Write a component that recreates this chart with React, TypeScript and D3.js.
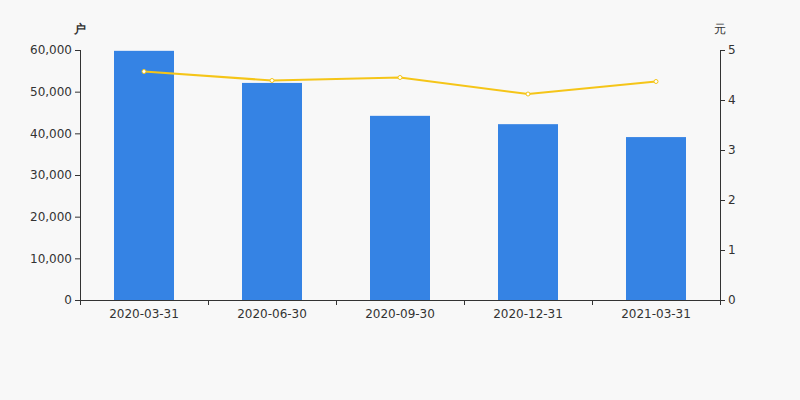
import React from "react";
import * as d3 from "d3";

const categories = ["2020-03-31", "2020-06-30", "2020-09-30", "2020-12-31", "2021-03-31"];
const holders = [59800, 52100, 44200, 42200, 39100];
const avgPrice = [4.57, 4.39, 4.45, 4.12, 4.37];
const leftTicks = [0, 10000, 20000, 30000, 40000, 50000, 60000];
const rightTicks = [0, 1, 2, 3, 4, 5];

export default function App() {
  const W = 800, H = 400;
  const m = { l: 80, r: 720, t: 50, b: 300 };
  const x = d3.scaleBand<string>().domain(categories).range([m.l, m.r]);
  const yL = d3.scaleLinear().domain([0, 60000]).range([m.b, m.t]);
  const yR = d3.scaleLinear().domain([0, 5]).range([m.b, m.t]);
  const bw = 60;
  const fmt = d3.format(",");
  const line = d3
    .line<number>()
    .x((_, i) => x(categories[i])! + x.bandwidth() / 2)
    .y((d) => yR(d));
  const font = "DejaVu Sans, sans-serif";
  const axisColor = "#333";
  const boundaries = [...categories.map((c) => x(c)!), m.r];
  return (
    <svg width={W} height={H} style={{ position: "absolute", left: 0, top: 0, background: "#f8f8f8" }} fontFamily={font}>
      <rect x={0} y={0} width={W} height={H} fill="#f8f8f8" />
      {categories.map((c, i) => (
        <rect key={c} x={x(c)! + (x.bandwidth() - bw) / 2} y={yL(holders[i])} width={bw} height={m.b - yL(holders[i])} fill="#3583e4" />
      ))}
      <path d={line(avgPrice)!} fill="none" stroke="#f5c518" strokeWidth={2} />
      {avgPrice.map((v, i) => (
        <circle key={i} cx={x(categories[i])! + x.bandwidth() / 2} cy={yR(v)} r={2} fill="#fff" stroke="#f5c518" strokeWidth={1} />
      ))}
      {/* left axis */}
      <line x1={m.l + 0.5} x2={m.l + 0.5} y1={m.t} y2={m.b} stroke={axisColor} />
      {leftTicks.map((t) => (
        <g key={t}>
          <line x1={m.l - 5} x2={m.l} y1={yL(t) + 0.5} y2={yL(t) + 0.5} stroke={axisColor} />
          <text x={m.l - 8} y={yL(t)} dy="0.35em" textAnchor="end" fontSize={12} fill="#333">{fmt(t)}</text>
        </g>
      ))}
      {/* right axis */}
      <line x1={m.r + 0.5} x2={m.r + 0.5} y1={m.t} y2={m.b} stroke={axisColor} />
      {rightTicks.map((t) => (
        <g key={t}>
          <line x1={m.r} x2={m.r + 5} y1={yR(t) + 0.5} y2={yR(t) + 0.5} stroke={axisColor} />
          <text x={m.r + 8} y={yR(t)} dy="0.35em" textAnchor="start" fontSize={12} fill="#333">{t}</text>
        </g>
      ))}
      {/* bottom axis */}
      <line x1={m.l} x2={m.r} y1={m.b + 0.5} y2={m.b + 0.5} stroke={axisColor} />
      {boundaries.map((b, i) => (
        <line key={i} x1={b + 0.5} x2={b + 0.5} y1={m.b} y2={m.b + 5} stroke={axisColor} />
      ))}
      {categories.map((c) => (
        <text key={c} x={x(c)! + x.bandwidth() / 2} y={m.b + 18} textAnchor="middle" fontSize={12} fill="#333">{c}</text>
      ))}
      <text x={80} y={33} textAnchor="middle" fontSize={12} fill="#333" fontWeight="bold">户</text>
      <text x={720} y={33} textAnchor="middle" fontSize={12} fill="#333">元</text>
    </svg>
  );
}
